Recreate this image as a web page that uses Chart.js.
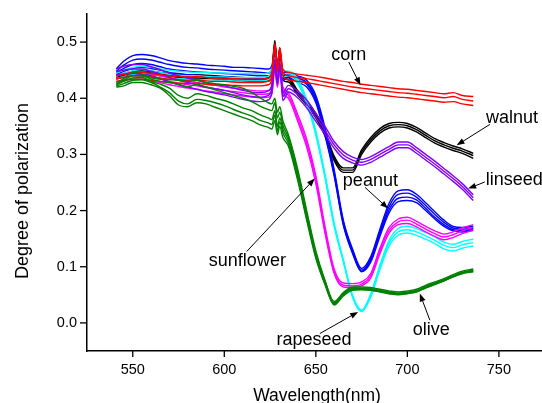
<!DOCTYPE html>
<html>
<head>
<meta charset="utf-8">
<script src="https://cdn.jsdelivr.net/npm/chart.js@4.4.1/dist/chart.umd.min.js"></script>
<style>
  html, body { margin: 0; padding: 0; background: #fff; }
  canvas { display: block; }
</style>
</head>
<body>
<canvas id="chart" width="542" height="403"></canvas>
<script>
// Longitudes de onda comunes a todas las curvas (nm)
const wavelength = [541, 545, 550, 555, 560, 565, 570, 575, 580, 585, 590, 595, 600, 605, 610, 615, 620, 624, 626, 627.6, 629, 630.3, 632, 635, 640, 645, 650, 655, 660, 665, 670, 675, 680, 685, 690, 695, 700, 705, 710, 715, 720, 725, 730, 736];

// corn (rojo)
const corn1 = [.44,.442,.446,.446,.444,.442,.44,.439,.438,.439,.437,.436,.436,.435,.434,.434,.434,.436,.446,.498,.458,.49,.452,.446,.443,.441,.439,.436,.433,.43,.428,.425,.423,.421,.419,.417,.416,.414,.412,.41,.408,.41,.405,.403];
const corn2 = [.435,.437,.44,.44,.438,.436,.434,.433,.432,.433,.431,.43,.43,.429,.428,.428,.428,.43,.44,.495,.452,.486,.446,.44,.437,.435,.432,.429,.426,.423,.42,.418,.416,.414,.412,.41,.409,.407,.405,.403,.401,.403,.398,.395];
const corn3 = [.43,.432,.434,.434,.432,.43,.428,.427,.426,.427,.425,.424,.424,.423,.422,.422,.422,.424,.434,.49,.446,.482,.44,.433,.43,.428,.425,.422,.419,.416,.413,.41,.408,.406,.404,.402,.401,.399,.397,.395,.393,.394,.39,.387];

// walnut (negro)
const walnut1 = [.44,.444,.448,.449,.448,.446,.444,.443,.442,.442,.441,.44,.439,.438,.437,.436,.436,.437,.447,.503,.458,.49,.44,.437,.414,.396,.373,.341,.297,.276,.276,.308,.33,.346,.355,.357,.355,.348,.338,.328,.321,.315,.31,.302];
const walnut2 = [.437,.441,.445,.446,.445,.443,.441,.44,.439,.439,.438,.437,.436,.435,.434,.433,.433,.434,.444,.498,.455,.486,.436,.433,.41,.392,.369,.337,.293,.272,.272,.304,.326,.342,.351,.353,.351,.344,.334,.324,.317,.311,.306,.298];
const walnut3 = [.434,.438,.442,.443,.442,.44,.438,.437,.436,.436,.435,.434,.433,.432,.431,.43,.43,.431,.441,.494,.452,.482,.432,.429,.406,.388,.365,.333,.289,.268,.268,.3,.322,.338,.347,.349,.347,.34,.33,.32,.313,.307,.302,.293];

// linseed (violeta)
const linseed1 = [.452,.457,.46,.46,.456,.451,.445,.44,.436,.432,.428,.425,.422,.418,.414,.411,.41,.413,.425,.47,.435,.465,.41,.423,.413,.397,.373,.35,.323,.305,.295,.291,.296,.305,.314,.322,.322,.312,.3,.288,.275,.262,.248,.228];
const linseed2 = [.447,.45,.452,.452,.448,.443,.437,.432,.428,.424,.42,.417,.414,.41,.406,.403,.402,.405,.418,.465,.43,.46,.403,.417,.407,.39,.366,.343,.317,.299,.29,.286,.291,.3,.309,.317,.317,.307,.295,.283,.27,.257,.243,.223];
const linseed3 = [.442,.443,.444,.443,.44,.435,.429,.424,.42,.416,.412,.409,.406,.402,.398,.395,.394,.397,.41,.46,.425,.455,.396,.411,.401,.383,.359,.336,.311,.293,.285,.281,.286,.295,.304,.312,.312,.302,.29,.278,.265,.252,.238,.218];

// peanut (azul)
const peanut1 = [.452,.466,.476,.478,.476,.472,.467,.464,.462,.461,.459,.458,.457,.455,.455,.454,.453,.452,.458,.485,.455,.478,.445,.447,.44,.432,.405,.348,.273,.183,.132,.097,.118,.167,.213,.235,.237,.229,.214,.198,.183,.172,.17,.172];
const peanut2 = [.448,.459,.468,.47,.468,.464,.46,.457,.455,.454,.452,.451,.45,.449,.448,.447,.446,.445,.452,.48,.45,.472,.44,.443,.436,.428,.4,.343,.269,.18,.129,.094,.114,.162,.207,.229,.231,.224,.209,.193,.179,.169,.167,.169];
const peanut3 = [.445,.453,.46,.462,.46,.456,.452,.45,.448,.447,.446,.445,.444,.443,.442,.441,.44,.44,.447,.475,.445,.466,.436,.44,.432,.425,.396,.338,.265,.177,.126,.092,.111,.158,.201,.222,.224,.219,.204,.188,.175,.166,.164,.167];
const peanut4 = [.442,.448,.453,.455,.453,.45,.446,.444,.442,.441,.44,.439,.438,.437,.436,.436,.435,.435,.442,.47,.44,.46,.432,.437,.428,.42,.392,.334,.262,.174,.124,.091,.108,.154,.196,.216,.218,.214,.2,.185,.172,.164,.162,.165];

// sunflower (magenta)
const sunflower1 = [.44,.443,.446,.446,.443,.44,.436,.433,.43,.428,.425,.423,.42,.418,.416,.414,.413,.414,.42,.46,.43,.455,.42,.41,.372,.327,.262,.172,.096,.071,.07,.073,.088,.133,.17,.185,.188,.181,.172,.164,.158,.162,.169,.175];
const sunflower2 = [.435,.437,.44,.44,.437,.434,.43,.427,.424,.422,.419,.417,.414,.412,.41,.408,.407,.408,.414,.455,.425,.45,.415,.405,.366,.32,.255,.165,.092,.067,.066,.069,.084,.128,.165,.18,.183,.176,.167,.159,.153,.157,.164,.17];
const sunflower3 = [.43,.431,.434,.434,.431,.428,.424,.421,.418,.416,.413,.411,.408,.406,.404,.402,.401,.402,.408,.45,.42,.445,.41,.4,.36,.313,.248,.16,.088,.064,.063,.066,.08,.123,.16,.175,.177,.171,.162,.154,.148,.152,.159,.165];

// rapeseed (cian)
const rapeseed1 = [.445,.45,.455,.457,.455,.452,.45,.448,.447,.446,.446,.445,.445,.444,.444,.444,.443,.445,.452,.472,.448,.465,.448,.448,.435,.398,.342,.265,.178,.113,.05,.023,.052,.103,.147,.168,.172,.168,.161,.153,.144,.14,.145,.149];
const rapeseed2 = [.44,.444,.449,.451,.449,.446,.443,.441,.44,.44,.439,.438,.438,.437,.437,.437,.437,.439,.446,.466,.442,.46,.443,.444,.431,.394,.338,.262,.175,.111,.048,.021,.049,.099,.142,.162,.166,.162,.155,.147,.138,.134,.139,.143];
const rapeseed3 = [.435,.438,.442,.444,.443,.44,.437,.435,.434,.433,.433,.432,.432,.431,.431,.431,.431,.433,.44,.46,.436,.455,.438,.44,.427,.39,.334,.258,.172,.109,.046,.02,.046,.095,.137,.156,.16,.156,.149,.141,.132,.128,.133,.137];

// olive (verde)
const olive1 = [.428,.435,.446,.443,.437,.434,.433,.432,.43,.432,.428,.426,.424,.421,.418,.41,.40,.392,.39,.40,.375,.385,.36,.335,.275,.2,.128,.076,.038,.054,.064,.064,.063,.06,.057,.055,.057,.06,.067,.073,.079,.086,.092,.096];
const olive2 = [.426,.432,.44,.44,.434,.43,.428,.425,.42,.425,.42,.415,.41,.405,.40,.394,.385,.38,.378,.392,.365,.375,.352,.33,.27,.195,.124,.074,.036,.052,.062,.062,.061,.058,.055,.053,.055,.058,.065,.071,.077,.084,.09,.094];
const olive3 = [.424,.43,.436,.437,.43,.425,.418,.405,.40,.408,.405,.40,.396,.39,.383,.378,.37,.365,.362,.378,.35,.365,.345,.325,.265,.19,.12,.072,.035,.051,.061,.061,.06,.057,.054,.052,.054,.057,.064,.07,.076,.083,.089,.093];
const olive4 = [.422,.426,.432,.433,.428,.42,.41,.395,.39,.398,.396,.392,.387,.38,.374,.368,.36,.356,.353,.37,.342,.358,.338,.32,.26,.187,.118,.07,.034,.05,.06,.06,.059,.056,.053,.051,.053,.056,.063,.069,.075,.082,.088,.092];
const olive5 = [.42,.422,.428,.428,.424,.418,.405,.388,.385,.392,.39,.384,.378,.372,.366,.36,.352,.348,.345,.36,.335,.35,.33,.315,.255,.183,.115,.068,.032,.048,.058,.059,.058,.055,.052,.05,.052,.055,.062,.068,.075,.082,.088,.091];

// Etiquetas con flecha (coordenadas en unidades de los ejes)
const labelText = ["corn", "walnut", "linseed", "peanut", "sunflower", "rapeseed", "olive"];
const labelX = [668.0, 757.1, 758.4, 679.8, 612.6, 649.0, 713.1];
const labelY = [0.4674, 0.356, 0.245, 0.2432, 0.1009, -0.0391, -0.0214];
const arrowFromX = [668.0, 745.1, 742.3, 676.8, 612.3, 652.2, 712.3];
const arrowFromY = [0.4644, 0.3535, 0.2509, 0.2415, 0.1273, -0.0189, 0.0048];
const arrowToX = [674.4, 726.9, 733.2, 689.5, 649.4, 673.1, 706.8];
const arrowToY = [0.423, 0.3162, 0.2391, 0.2036, 0.257, 0.0196, 0.0523];

const FONT = "'Liberation Sans', Arial, sans-serif";

// Orden: el primero queda dibujado encima
const groups = [
  { color: "#008000", series: [olive1, olive2, olive3, olive4, olive5] },
  { color: "#FF0000", series: [corn1, corn2, corn3] },
  { color: "#8000FF", series: [linseed1, linseed2, linseed3] },
  { color: "#FF00FF", series: [sunflower1, sunflower2, sunflower3] },
  { color: "#00FFFF", series: [rapeseed1, rapeseed2, rapeseed3] },
  { color: "#0000FF", series: [peanut1, peanut2, peanut3, peanut4] },
  { color: "#000000", series: [walnut1, walnut2, walnut3] }
];

let datasets = [];
groups.forEach(function (g) {
  g.series.forEach(function (s) {
    datasets.push({
      data: s.map(function (v, i) { return { x: wavelength[i], y: v }; }),
      borderColor: g.color,
      borderWidth: 1.4,
      pointRadius: 0,
      fill: false,
      cubicInterpolationMode: "monotone"
    });
  });
});

function isMultiple(v, step) {
  return Math.abs(Math.round(v / step) * step - v) < 1e-6;
}

// Marcas de los ejes, títulos y etiquetas con flechas
const extras = {
  id: "extras",
  afterDraw(chart) {
    const ctx = chart.ctx;
    const xs = chart.scales.x;
    const ys = chart.scales.y;
    ctx.save();
    ctx.strokeStyle = "#000";
    ctx.lineWidth = 1.3;
    xs.ticks.forEach(function (t) {
      const px = xs.getPixelForValue(t.value);
      const len = isMultiple(t.value, 50) ? 6 : 4;
      ctx.beginPath();
      ctx.moveTo(px, xs.top);
      ctx.lineTo(px, xs.top + len);
      ctx.stroke();
    });
    ys.ticks.forEach(function (t) {
      const py = ys.getPixelForValue(t.value);
      const len = isMultiple(t.value, 0.1) ? 7 : 4;
      ctx.beginPath();
      ctx.moveTo(ys.right, py);
      ctx.lineTo(ys.right - len, py);
      ctx.stroke();
    });

    // títulos
    ctx.fillStyle = "#000";
    ctx.font = "17.5px " + FONT;
    ctx.textAlign = "center";
    ctx.textBaseline = "alphabetic";
    ctx.fillText("Wavelength(nm)", 317, 401);
    ctx.save();
    ctx.translate(28, 191);
    ctx.rotate(-Math.PI / 2);
    ctx.font = "18px " + FONT;
    ctx.fillText("Degree of polarization", 0, 0);
    ctx.restore();

    // etiquetas
    ctx.font = "18px " + FONT;
    ctx.lineWidth = 1;
    for (let i = 0; i < labelText.length; i++) {
      ctx.fillText(labelText[i], xs.getPixelForValue(labelX[i]), ys.getPixelForValue(labelY[i]));
      const x0 = xs.getPixelForValue(arrowFromX[i]);
      const y0 = ys.getPixelForValue(arrowFromY[i]);
      const x1 = xs.getPixelForValue(arrowToX[i]);
      const y1 = ys.getPixelForValue(arrowToY[i]);
      const a = Math.atan2(y1 - y0, x1 - x0);
      ctx.beginPath();
      ctx.moveTo(x0, y0);
      ctx.lineTo(x1 - 6 * Math.cos(a), y1 - 6 * Math.sin(a));
      ctx.stroke();
      ctx.beginPath();
      ctx.moveTo(x1, y1);
      ctx.lineTo(x1 - 8 * Math.cos(a) + 3 * Math.sin(a), y1 - 8 * Math.sin(a) - 3 * Math.cos(a));
      ctx.lineTo(x1 - 8 * Math.cos(a) - 3 * Math.sin(a), y1 - 8 * Math.sin(a) + 3 * Math.cos(a));
      ctx.closePath();
      ctx.fill();
    }
    ctx.restore();
  }
};

Chart.defaults.font.family = FONT;
Chart.defaults.color = "#000";

new Chart(document.getElementById("chart"), {
  type: "line",
  data: { datasets: datasets },
  options: {
    responsive: false,
    animation: false,
    devicePixelRatio: 1,
    layout: { padding: { top: 14, right: 1, left: 0, bottom: 0 } },
    plugins: { legend: { display: false }, tooltip: { enabled: false } },
    scales: {
      x: {
        type: "linear",
        min: 525,
        max: 773,
        grid: { display: false, drawTicks: false },
        border: { display: true, color: "#000", width: 1.5 },
        ticks: {
          stepSize: 25,
          padding: 10,
          maxRotation: 0,
          font: { size: 14.5 },
          callback: function (v) { return isMultiple(v, 50) ? String(v) : null; }
        },
        afterBuildTicks: function (scale) {
          scale.ticks = scale.ticks.filter(function (t) { return isMultiple(t.value, 25); });
        },
        afterFit: function (scale) {
          scale.height = 52;
          scale.paddingLeft = 0;
          scale.paddingRight = 0;
        }
      },
      y: {
        min: -0.05,
        max: 0.55,
        grid: { display: false, drawTicks: false },
        border: { display: true, color: "#000", width: 1.5 },
        ticks: {
          stepSize: 0.05,
          padding: 10,
          font: { size: 14.5 },
          callback: function (v) {
            if (v > 0.51 || v < -0.01) return null;
            return isMultiple(v, 0.1) ? v.toFixed(1) : null;
          }
        },
        afterFit: function (scale) {
          scale.width = 87;
          scale.paddingTop = 0;
          scale.paddingBottom = 0;
        }
      }
    }
  },
  plugins: [extras]
});
</script>
</body>
</html>
